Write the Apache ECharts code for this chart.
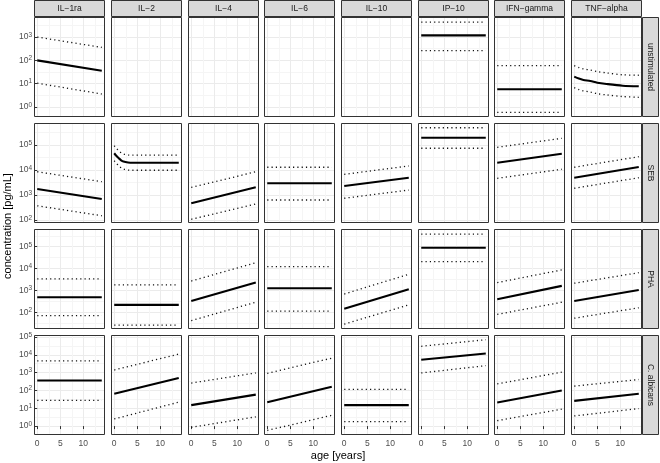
<!DOCTYPE html>
<html><head><meta charset="utf-8">
<script src="https://cdn.jsdelivr.net/npm/echarts@6/dist/echarts.min.js"></script>
<style>html,body{margin:0;padding:0;background:#fff}#c{width:660px;height:463px}</style>
</head><body><div id="c"></div><script>
// ---------- data (concentrations in pg/mL) ----------
const cytokines = ['IL−1ra','IL−2','IL−4','IL−6','IL−10','IP−10','IFN−gamma','TNF−alpha'];
const stimuli = ['unstimulated','SEB','PHA','C. albicans'];
const ageTicks = [0, 5, 10];
const ageMinorTicks = [2.5, 7.5, 12.5];
const lineAges = [0, 14];

// each entry: [value at age 0, value at age 14]; null = no straight fit
const unstimMed = [[100,36],null,null,null,null,[1180,1180],[5.8,5.8],null];
const unstimUpp = [[1000,360],null,null,null,null,[4400,4400],[59,59],null];
const unstimLow = [[10.5,3.6],null,null,null,null,[260,260],[0.59,0.59],null];

const sebMed = [[1740,690],null,[470,2040],[2950,2950],[2300,4900],[195000,195000],[19600,44500],[4900,13200]];
const sebUpp = [[8500,3400],null,[2000,8500],[12900,12900],[6700,14500],[490000,490000],[81000,185000],[12900,34000]];
const sebLow = [[370,148],null,[107,440],[630,630],[740,1580],[74000,74000],[4650,10700],[1860,4900]];

const phaMed = [[490,490],[220,220],[330,2300],[1260,1260],[145,1130],[90000,90000],[400,1620],[330,1050]];
const phaUpp = [[3400,3400],[1800,1800],[2700,18600],[12300,12300],[690,5500],[380000,380000],[2300,8700],[2150,6500]];
const phaLow = [[71,71],[26,26],[42,290],[115,115],[29,220],[21000,21000],[81,290],[54,162]];

const calbMed = [[360,360],[65,500],[15,58],[22,160],[15,15],[5300,11800],[21,100],[26,65]];
const calbUpp = [[4600,4600],[1400,11000],[260,960],[910,6500],[114,114],[30000,70000],[235,1050],[175,410]];
const calbLow = [[28,28],[2.5,22],[0.85,3.3],[0.57,4],[1.8,1.8],[960,2450],[2,9],[3.7,9.6]];

// curved fits
const tnfUnstimAges = [0, 1, 2, 3.5, 5, 7, 10.5, 14];
const tnfUnstimMed = [20, 16.5, 14.5, 13, 11, 9.7, 8.2, 7.7];
const tnfUnstimUpp = [59, 49, 43, 38, 33, 29, 24, 23];
const tnfUnstimLow = [6.8, 5.6, 4.9, 4.4, 3.7, 3.3, 2.8, 2.6];

const il2SebAges = [0, 0.5, 1, 1.5, 2, 3, 4, 6, 14];
const il2SebMed = [46800, 36300, 29500, 24500, 21900, 20000, 19500, 19500, 19500];
const il2SebUpp = [93600, 72600, 59000, 49000, 43800, 40000, 39000, 39000, 39000];
const il2SebLow = [23400, 18150, 14750, 12250, 10950, 10000, 9750, 9750, 9750];

// y ranges per row (log10 of pg/mL)
const yRanges = [[-0.43, 3.86], [1.88, 5.88], [1.24, 5.81], [-0.5, 5.11]];

// ---------- layout ----------
const FONT = "'Liberation Sans', Arial, Helvetica, sans-serif";
const panelLefts = [34, 111, 188, 264, 341, 418, 494, 571];
const panelTops = [17, 123, 229, 335];
const PW = 71, PH = 100;
const stripH = 17, stripW = 17;

const rowsMed = [unstimMed, sebMed, phaMed, calbMed];
const rowsUpp = [unstimUpp, sebUpp, phaUpp, calbUpp];
const rowsLow = [unstimLow, sebLow, phaLow, calbLow];

const fmtPow = v => '{b|10}{s|' + Math.round(v) + '}';
const powRich = {
  b: {fontSize: 8.5, color: '#4D4D4D', fontFamily: FONT},
  s: {fontSize: 6.5, color: '#4D4D4D', fontFamily: FONT, padding: [0, 0, 4, 0]}
};

const grids = [], xAxes = [], yAxes = [], series = [], graphics = [];

function range(lo, hi, step, off) {
  const out = [];
  for (let v = Math.ceil((lo - off) / step) * step + off; v <= hi; v += step) {
    if (v > lo + 1e-6 && v < hi - 1e-6) out.push(+v.toFixed(3));
  }
  return out;
}

stimuli.forEach((stim, r) => {
  const [ymin, ymax] = yRanges[r];
  const yMajor = range(ymin, ymax, 1, 0);
  const yMinor = range(ymin, ymax, 1, 0.5);
  cytokines.forEach((cyt, c) => {
    const g = grids.length;
    grids.push({left: panelLefts[c], top: panelTops[r], width: PW, height: PH, show: false});
    xAxes.push({
      gridIndex: g, type: 'value', min: -0.7, max: 14.7,
      axisLine: {show: false},
      axisTick: {show: r === 3, customValues: ageTicks, length: 3, lineStyle: {color: '#333333', width: 1}},
      axisLabel: {show: r === 3, customValues: ageTicks, color: '#4D4D4D', fontSize: 8.5, fontFamily: FONT, margin: 4},
      splitLine: {show: true, lineStyle: {color: '#EBEBEB', width: 1}}
    });
    xAxes.push({
      gridIndex: g, type: 'value', min: -0.7, max: 14.7, position: 'bottom',
      axisLine: {show: false},
      axisTick: {show: false, customValues: ageMinorTicks},
      axisLabel: {show: false, customValues: ageMinorTicks},
      splitLine: {show: true, lineStyle: {color: '#F5F5F5', width: 1}}
    });
    yAxes.push({
      gridIndex: g, type: 'value', min: ymin, max: ymax,
      axisLine: {show: false},
      axisTick: {show: c === 0, customValues: yMajor, length: 3, lineStyle: {color: '#333333', width: 1}},
      axisLabel: {show: c === 0, customValues: yMajor, formatter: fmtPow, rich: powRich, margin: 2},
      splitLine: {show: true, lineStyle: {color: '#EBEBEB', width: 1}}
    });
    yAxes.push({
      gridIndex: g, type: 'value', min: ymin, max: ymax, position: 'left',
      axisLine: {show: false},
      axisTick: {show: false, customValues: yMinor},
      axisLabel: {show: false, customValues: yMinor},
      splitLine: {show: true, lineStyle: {color: '#F5F5F5', width: 1}}
    });

    let sets = [];
    if (r === 0 && c === 7) {
      sets = [[tnfUnstimAges, tnfUnstimUpp, 'd'], [tnfUnstimAges, tnfUnstimLow, 'd'], [tnfUnstimAges, tnfUnstimMed, 'm']];
    } else if (r === 1 && c === 1) {
      sets = [[il2SebAges, il2SebUpp, 'd'], [il2SebAges, il2SebLow, 'd'], [il2SebAges, il2SebMed, 'm']];
    } else if (rowsMed[r][c]) {
      sets = [[lineAges, rowsUpp[r][c], 'd'], [lineAges, rowsLow[r][c], 'd'], [lineAges, rowsMed[r][c], 'm']];
    }
    sets.forEach(([ages, vals, kind]) => {
      series.push({
        type: 'line', xAxisIndex: 2 * g, yAxisIndex: 2 * g,
        data: ages.map((a, i) => [a, Math.log10(vals[i])]),
        symbol: 'none', silent: true, smooth: ages.length > 2 ? 0.3 : false,
        z: kind === 'm' ? 4 : 3,
        lineStyle: kind === 'm'
          ? {color: '#000000', width: 2.1, type: 'solid'}
          : {color: '#111111', width: 1.3, type: [1.2, 3.1]}
      });
    });

    graphics.push({type: 'rect', z: 100, silent: true,
      shape: {x: panelLefts[c] + 0.5, y: panelTops[r] + 0.5, width: PW - 1, height: PH - 1},
      style: {fill: 'none', stroke: '#333333', lineWidth: 1}});
  });
  graphics.push({type: 'rect', z: 100, silent: true,
    shape: {x: 642.5, y: panelTops[r] + 0.5, width: stripW - 1, height: PH - 1},
    style: {fill: '#D9D9D9', stroke: '#333333', lineWidth: 1}});
  graphics.push({type: 'text', z: 101, silent: true,
    x: 642 + stripW / 2, y: panelTops[r] + PH / 2, rotation: -Math.PI / 2,
    style: {text: stim, fill: '#1A1A1A', font: '8.5px ' + FONT, align: 'center', verticalAlign: 'middle'}});
});

cytokines.forEach((cyt, c) => {
  graphics.push({type: 'rect', z: 100, silent: true,
    shape: {x: panelLefts[c] + 0.5, y: 0.5, width: PW - 1, height: stripH - 1},
    style: {fill: '#D9D9D9', stroke: '#333333', lineWidth: 1}});
  graphics.push({type: 'text', z: 101, silent: true,
    x: panelLefts[c] + PW / 2, y: stripH / 2,
    style: {text: cyt, fill: '#1A1A1A', font: '8.5px ' + FONT, align: 'center', verticalAlign: 'middle'}});
});

graphics.push({type: 'text', z: 101, silent: true, x: 338, y: 456,
  style: {text: 'age [years]', fill: '#000000', font: '11px ' + FONT, align: 'center', verticalAlign: 'middle'}});
graphics.push({type: 'text', z: 101, silent: true, x: 8, y: 226, rotation: Math.PI / 2,
  style: {text: 'concentration [pg/mL]', fill: '#000000', font: '11px ' + FONT, align: 'center', verticalAlign: 'middle'}});

const chart = echarts.init(document.getElementById('c'), null, {renderer: 'canvas'});
chart.setOption({
  animation: false,
  backgroundColor: '#ffffff',
  grid: grids, xAxis: xAxes, yAxis: yAxes, series: series, graphic: graphics
});
</script></body></html>
